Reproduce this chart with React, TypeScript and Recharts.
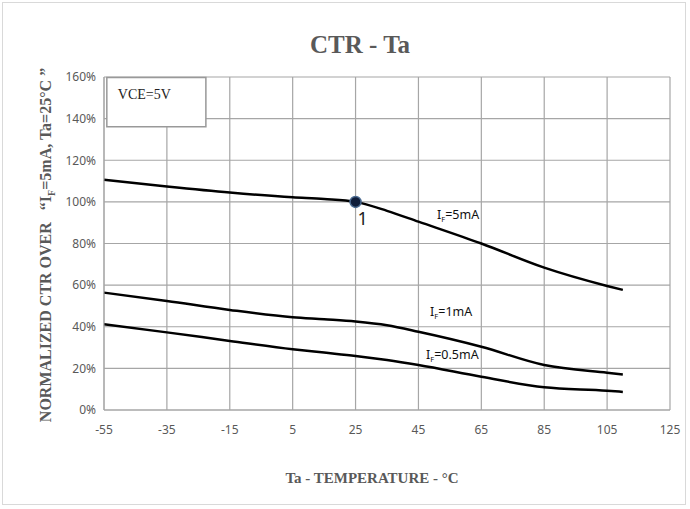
import React from "react"
import { LineChart, Line, XAxis, YAxis, CartesianGrid, ReferenceDot, ReferenceArea } from "recharts"

// temperatures (°C) and normalized CTR (%)
const temps = [-55, -35, -15, 5, 15, 25, 35, 45, 65, 85, 105, 110]
const ctr5mA = [110.6, 107.4, 104.5, 102.2, 101.4, 100, 95.7, 90.5, 80, 68.4, 59.6, 57.7]
const ctr1mA = [56.4, 52.4, 48.1, 44.6, 43.6, 42.5, 40.7, 37.6, 30.4, 21.6, 17.9, 17.1]
const ctr05mA = [41.2, 37.3, 33.2, 29.2, 27.6, 26, 24, 21.6, 16, 10.9, 9.3, 8.7]

const xTicks = [-55, -35, -15, 5, 25, 45, 65, 85, 105, 125]
const yTicks = [0, 20, 40, 60, 80, 100, 120, 140, 160]

const data = temps.map((t, i) => ({ t, a: ctr5mA[i], b: ctr1mA[i], c: ctr05mA[i] }))

const serif = "'Liberation Serif', 'DejaVu Serif', serif"
const sans = "'Noto Sans', 'Liberation Sans', sans-serif"
const gray = "#595959"
const gridGray = "#a6a6a6"

const curveTag = (rest: string) => (props: any) => {
  const { x, y } = props.viewBox
  return (
    <text x={x} y={y} fontSize={12.5} fontFamily={sans} fill="#111">
      <tspan>I</tspan>
      <tspan fontSize={7.5} dy={3}>F</tspan>
      <tspan dy={-3}>{rest}</tspan>
    </text>
  )
}

export default function App() {
  return (
    <div style={{ position: "absolute", left: 0, top: 0, width: 690, height: 509, background: "#fff" }}>
      <div
        style={{
          position: "absolute",
          left: 2,
          top: 2,
          width: 684,
          height: 503,
          border: "1px solid #d9d9d9",
          boxSizing: "border-box",
        }}
      />
      <LineChart width={690} height={509} data={data} margin={{ top: 77, right: 20, bottom: 69, left: 0 }}>
        <CartesianGrid stroke={gridGray} strokeWidth={1.2} />
        <XAxis
          dataKey="t"
          type="number"
          domain={[-55, 125]}
          ticks={xTicks}
          interval={0}
          tickSize={0}
          tickLine={false}
          tickMargin={15}
          stroke={gridGray}
          tick={{ fill: gray, fontSize: 12, fontFamily: sans }}
        />
        <YAxis
          type="number"
          domain={[0, 160]}
          ticks={yTicks}
          interval={0}
          width={104}
          tickSize={0}
          tickLine={false}
          tickMargin={8}
          stroke={gridGray}
          tickFormatter={(v) => `${v}%`}
          tick={{ fill: gray, fontSize: 12, fontFamily: sans }}
        />
        <ReferenceArea
          x1={-54.1}
          x2={-22.6}
          y1={136.1}
          y2={159.7}
          fill="#fff"
          fillOpacity={1}
          stroke="#999"
          strokeWidth={1.5}
          label={{ value: "VCE=5V", position: "insideTopLeft", offset: 11, fontSize: 14, fontFamily: serif, fill: "#222" }}
        />
        <Line type="monotone" dataKey="a" stroke="#000" strokeWidth={2.5} dot={false} isAnimationActive={false} />
        <Line type="monotone" dataKey="b" stroke="#000" strokeWidth={2.5} dot={false} isAnimationActive={false} />
        <Line type="monotone" dataKey="c" stroke="#000" strokeWidth={2.5} dot={false} isAnimationActive={false} />
        <ReferenceDot x={50.9} y={91.8} r={0} fill="none" stroke="none" label={curveTag("=5mA")} />
        <ReferenceDot x={48.7} y={45.2} r={0} fill="none" stroke="none" label={curveTag("=1mA")} />
        <ReferenceDot x={47.4} y={24.4} r={0} fill="none" stroke="none" label={curveTag("=0.5mA")} />
        <ReferenceDot
          x={25}
          y={100}
          r={5.5}
          fill="#0f1d3a"
          stroke="#4a6a90"
          strokeWidth={1.5}
          label={{ value: "1", position: "bottom", dx: 7, offset: 5, fontSize: 18, fontFamily: sans, fill: "#222" }}
        />
      </LineChart>
      <div
        style={{
          position: "absolute",
          left: 160,
          width: 400,
          top: 30,
          textAlign: "center",
          fontFamily: serif,
          fontWeight: "bold",
          fontSize: 25,
          lineHeight: "30px",
          color: gray,
        }}
      >
        CTR - Ta
      </div>
      <div
        style={{
          position: "absolute",
          left: 172,
          width: 400,
          top: 469,
          textAlign: "center",
          fontFamily: serif,
          fontWeight: "bold",
          fontSize: 15,
          lineHeight: "18px",
          color: gray,
        }}
      >
        Ta - TEMPERATURE - °C
      </div>
      <div
        style={{
          position: "absolute",
          left: 46 - 200,
          top: 245 - 10,
          width: 400,
          height: 20,
          lineHeight: "20px",
          textAlign: "center",
          transform: "rotate(-90deg)",
          fontFamily: serif,
          fontWeight: "bold",
          fontSize: 16,
          color: gray,
          whiteSpace: "pre",
        }}
      >
        NORMALIZED CTR OVER{"   "}“I<sub style={{ fontSize: 10 }}>F</sub>=5mA, Ta=25°C ”
      </div>
    </div>
  )
}
